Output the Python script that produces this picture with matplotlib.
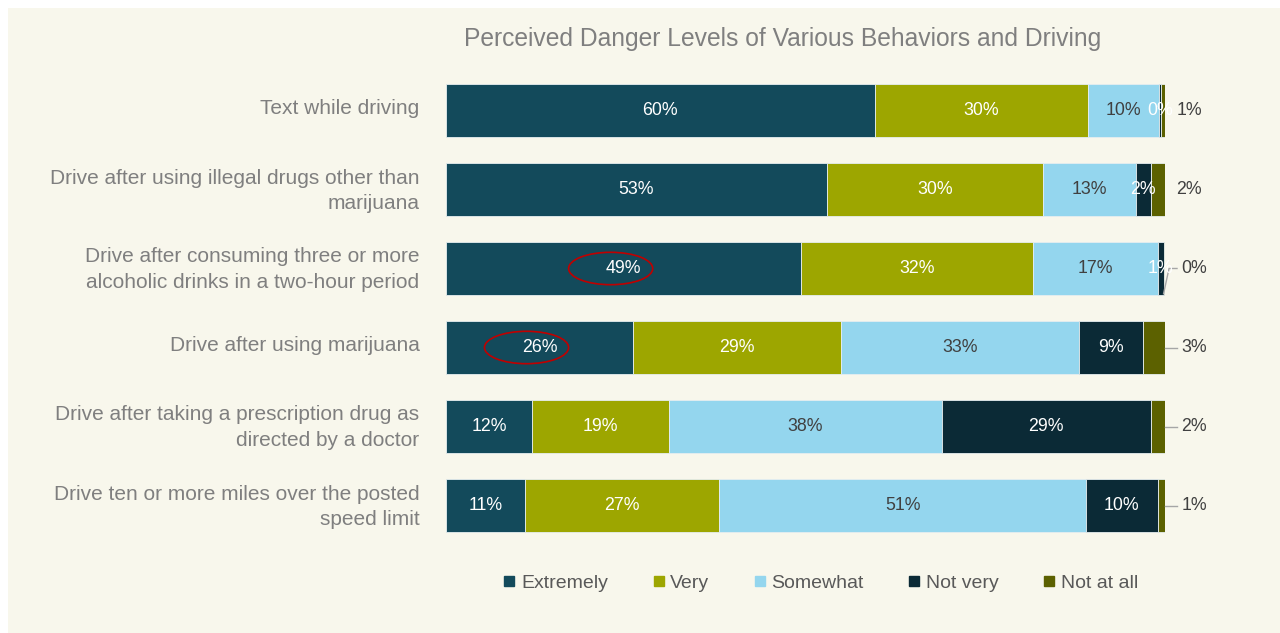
import matplotlib
matplotlib.use("Agg")
import matplotlib.pyplot as plt
import matplotlib.transforms as mtransforms
from matplotlib.patches import Ellipse, Rectangle
from matplotlib.lines import Line2D

plt.rcParams['font.family'] = ['Liberation Sans', 'DejaVu Sans']

categories = [
    "Text while driving",
    "Drive after using illegal drugs other than\nmarijuana",
    "Drive after consuming three or more\nalcoholic drinks in a two-hour period",
    "Drive after using marijuana",
    "Drive after taking a prescription drug as\ndirected by a doctor",
    "Drive ten or more miles over the posted\nspeed limit",
]
series_names = ["Extremely", "Very", "Somewhat", "Not very", "Not at all"]
extremely = [59.6, 53, 49.4, 26, 12, 11]
very = [29.7, 30, 32.3, 29, 19, 27]
somewhat = [9.9, 13, 17.3, 33, 38, 51]
not_very = [0.2, 2, 0.8, 9, 29, 10]
not_at_all = [0.6, 2, 0.2, 3, 2, 1]
highlighted_rows = [2, 3]  # red ellipses around "Extremely" labels

colors = ["#134A5B", "#9DA600", "#94D6EE", "#0B2A36", "#5C6100"]
label_colors = ["white", "white", "#404040", "white", None]

series = [extremely, very, somewhat, not_very, not_at_all]

W, H = 1280, 633
fig = plt.figure(figsize=(W / 100, H / 100), dpi=100, facecolor="white")
fig.patches.append(Rectangle((8 / W, 0), 1 - 8 / W, 1 - 8 / H, transform=fig.transFigure,
                             facecolor="#F8F7EC", edgecolor="none", zorder=-10))

ax_left, ax_right = 446 / W, 1165 / W
ax_top, ax_bot = 71 / H, 545 / H
ax = fig.add_axes([ax_left, 1 - ax_bot, ax_right - ax_left, ax_bot - ax_top])
ax.set_facecolor("none")

y = list(range(len(categories)))
left = [0.0] * len(categories)
bar_h = 0.67
for si, (vals, col) in enumerate(zip(series, colors)):
    ax.barh(y, vals, left=left, height=bar_h, color=col, edgecolor="#E6EEF0", linewidth=0.6,
            label=series_names[si], zorder=2)
    for i, v in enumerate(vals):
        cx = left[i] + v / 2
        txt = f"{round(v):d}%"
        if si < 4:
            ax.text(cx, i, txt, ha="center", va="center", color=label_colors[si],
                    fontsize=12.8, zorder=4)
        else:
            end = left[i] + v
            if i == 2:
                ax.plot([end - 0.2, 100.56, 101.67], [i + 0.32, i, i], color="#A6A6A6", lw=1.0,
                        clip_on=False, zorder=3)
            elif i >= 3:
                ax.plot([end, 101.67], [i, i], color="#A6A6A6", lw=1.0, clip_on=False, zorder=3)
            ax.text(102.3 if i >= 2 else 101.6, i, txt, ha="left", va="center", color="#404040",
                    fontsize=12.8, clip_on=False)
    left = [l + v for l, v in zip(left, vals)]

for r in highlighted_rows:
    cx = extremely[r] / 2 - 1.8
    ax.add_patch(Ellipse((cx, r), 11.7, 0.41, facecolor="none", edgecolor="#C00000",
                         lw=1.2, zorder=5))

ax.set_xlim(0, 100)
ax.set_ylim(len(categories) - 0.5, -0.5)
ax.set_yticks(y)
ax.set_yticklabels(categories, fontsize=15, color="#7F7F7F", linespacing=1.45)
ax.tick_params(axis="y", length=0, pad=19)
ax.set_xticks([])
for s in ax.spines.values():
    s.set_visible(False)
offset = mtransforms.ScaledTranslation(0, 4 / 100, fig.dpi_scale_trans)
for lab in ax.get_yticklabels():
    lab.set_transform(lab.get_transform() + offset)

fig.text(783 / W, 1 - 39 / H, "Perceived Danger Levels of Various Behaviors and Driving",
         ha="center", va="center", fontsize=17.7, color="#7F7F7F")

handles = [Line2D([], [], marker="s", linestyle="none", markersize=7, color=c) for c in colors]
fig.legend(handles, series_names, loc="center", bbox_to_anchor=(821 / W, 1 - 583 / H),
           ncol=5, frameon=False, fontsize=14, labelcolor="#595959",
           handlelength=0.6, handletextpad=0.3, columnspacing=2.3)

fig.savefig("out.png", dpi=100, facecolor=fig.get_facecolor())
